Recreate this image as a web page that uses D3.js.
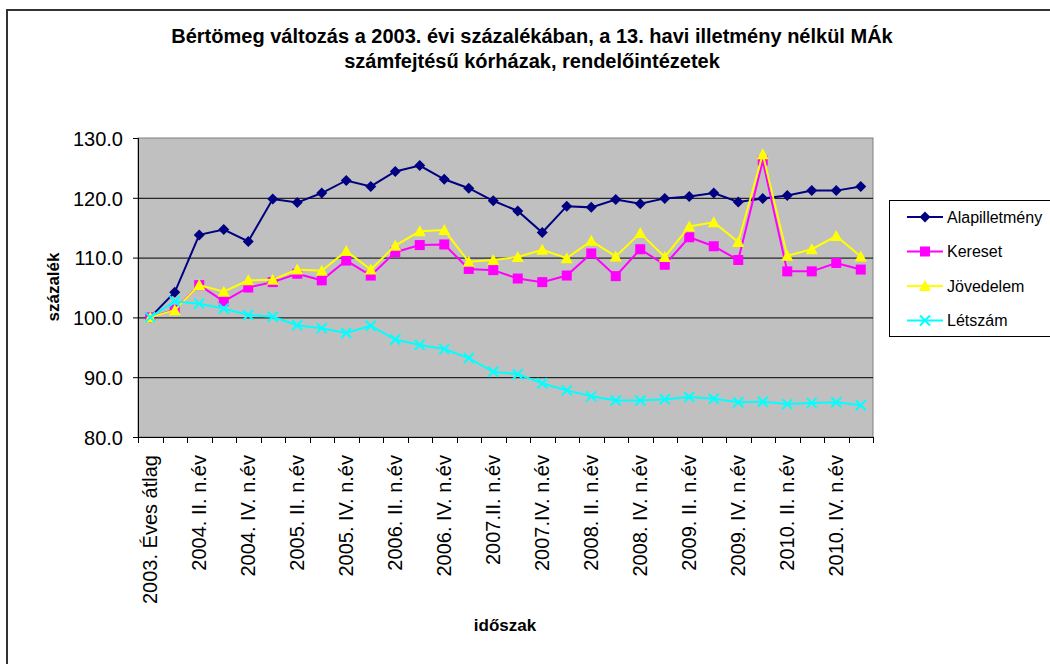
<!DOCTYPE html>
<html lang="hu">
<head>
<meta charset="UTF-8">
<title>Bértömeg változás</title>
<script src="https://cdn.jsdelivr.net/npm/d3@7"></script>
<style>
    body { margin: 0; background: #fff; }
    svg text { font-family: "Liberation Sans", Arial, sans-serif; fill: #000; }
</style>
</head>
<body>
<div id="chart"></div>
<script>
// időszakok (categories)
var idoszakok = [
    "2003. Éves átlag",
    "2004. I. n.év", "2004. II. n.év", "2004. III. n.év", "2004. IV. n.év",
    "2005. I. n.év", "2005. II. n.év", "2005. III. n.év", "2005. IV. n.év",
    "2006. I. n.év", "2006. II. n.év", "2006. III. n.év", "2006. IV. n.év",
    "2007.I. n.év", "2007.II. n.év", "2007.III. n.év", "2007.IV. n.év",
    "2008. I. n.év", "2008. II. n.év", "2008. III. n.év", "2008. IV. n.év",
    "2009. I. n.év", "2009. II. n.év", "2009. III. n.év", "2009. IV. n.év",
    "2010. I. n.év", "2010. II. n.év", "2010. III. n.év", "2010. IV. n.év",
    "2011. I. n.év"
];

var alapilletmeny = [100.0, 104.2, 113.8, 114.7, 112.7, 119.8, 119.2, 120.8, 122.9, 121.9,
                     124.4, 125.4, 123.1, 121.6, 119.5, 117.8, 114.2, 118.6, 118.4, 119.7,
                     119.0, 119.9, 120.2, 120.8, 119.3, 119.9, 120.4, 121.2, 121.2, 121.9];

var kereset = [100.0, 101.3, 105.4, 102.7, 105.0, 105.9, 107.3, 106.2, 109.5, 107.0,
               110.9, 112.1, 112.2, 108.1, 107.9, 106.5, 105.9, 107.0, 110.7, 106.9,
               111.4, 108.8, 113.4, 111.9, 109.6, 126.2, 107.7, 107.7, 109.1, 108.0];

var jovedelem = [100.0, 101.2, 105.4, 104.3, 106.2, 106.3, 108.0, 107.8, 111.1, 108.0,
                 112.0, 114.4, 114.6, 109.3, 109.6, 110.1, 111.3, 109.9, 112.8, 110.2,
                 114.1, 110.1, 115.2, 115.9, 112.6, 127.3, 110.3, 111.4, 113.6, 110.2];

var letszam = [100.0, 102.7, 102.3, 101.5, 100.4, 100.1, 98.7, 98.2, 97.4, 98.6,
               96.3, 95.4, 94.7, 93.2, 90.9, 90.5, 89.0, 87.8, 86.8, 86.1,
               86.1, 86.3, 86.7, 86.4, 85.8, 85.9, 85.5, 85.7, 85.8, 85.3];

var yTicks = [80, 90, 100, 110, 120, 130];

var sorozatok = [
    { nev: "Alapilletmény", ertekek: alapilletmeny, szin: "#000080", jel: "diamond" },
    { nev: "Kereset",       ertekek: kereset,       szin: "#ff00ff", jel: "square" },
    { nev: "Jövedelem",     ertekek: jovedelem,     szin: "#ffff00", jel: "triangle" },
    { nev: "Létszám",       ertekek: letszam,       szin: "#00ffff", jel: "x" }
];

var W = 1050, H = 664;
var plot = { left: 138, top: 138, right: 873, bottom: 437 };

var svg = d3.select("#chart").append("svg")
    .attr("width", W)
    .attr("height", H);

// outer frame
svg.append("rect")
    .attr("x", 7).attr("y", 10)
    .attr("width", 1100).attr("height", 700)
    .attr("fill", "#fff")
    .attr("stroke", "#333")
    .attr("stroke-width", 2);

// title
var title = svg.append("text")
    .attr("text-anchor", "middle")
    .style("font-size", "20px")
    .style("font-weight", "bold");
title.append("tspan").attr("x", 532).attr("y", 43)
    .text("Bértömeg változás a 2003. évi százalékában, a 13. havi illetmény nélkül MÁk");
title.append("tspan").attr("x", 532).attr("y", 68)
    .text("számfejtésű kórházak, rendelőintézetek");

var x = d3.scaleBand()
    .domain(d3.range(idoszakok.length))
    .range([plot.left, plot.right])
    .padding(0);

var y = d3.scaleLinear()
    .domain([80, 130])
    .range([plot.bottom, plot.top]);

// plot area
svg.append("rect")
    .attr("x", plot.left).attr("y", plot.top)
    .attr("width", plot.right - plot.left)
    .attr("height", plot.bottom - plot.top)
    .attr("fill", "#c0c0c0")
    .attr("stroke", "#808080")
    .attr("stroke-width", 1);

// gridlines
svg.append("g")
    .selectAll("line")
    .data(yTicks.slice(1, -1))
    .enter().append("line")
        .attr("x1", plot.left).attr("x2", plot.right)
        .attr("y1", function(d) { return y(d) + 0.5; })
        .attr("y2", function(d) { return y(d) + 0.5; })
        .attr("stroke", "#000")
        .attr("stroke-width", 1);

// y axis
var yAxis = svg.append("g")
    .attr("transform", "translate(" + plot.left + ",0)")
    .call(d3.axisLeft(y).tickValues(yTicks).tickFormat(d3.format(".1f")).tickSize(5).tickPadding(10));
yAxis.select(".domain").attr("stroke", "#000");
yAxis.selectAll(".tick line").attr("stroke", "#000");
yAxis.selectAll("text").style("font-size", "20px").attr("dy", "0.36em");

// x axis - ticks at category boundaries
var xAxis = svg.append("g").attr("class", "x-axis");
xAxis.append("line")
    .attr("x1", plot.left).attr("x2", plot.right)
    .attr("y1", plot.bottom + 0.5).attr("y2", plot.bottom + 0.5)
    .attr("stroke", "#000");
xAxis.selectAll("line.tick")
    .data(d3.range(idoszakok.length + 1))
    .enter().append("line")
        .attr("class", "tick")
        .attr("x1", function(i) { return Math.round(plot.left + i * x.bandwidth()) + 0.5; })
        .attr("x2", function(i) { return Math.round(plot.left + i * x.bandwidth()) + 0.5; })
        .attr("y1", plot.bottom)
        .attr("y2", plot.bottom + 6)
        .attr("stroke", "#000");

xAxis.selectAll("text")
    .data(idoszakok.map(function(d, i) { return { label: d, i: i }; })
        .filter(function(d) { return d.i % 2 === 0; }))
    .enter().append("text")
        .attr("transform", function(d) {
            return "translate(" + (x(d.i) + x.bandwidth() / 2) + "," + (plot.bottom + 18) + ") rotate(-90)";
        })
        .attr("text-anchor", "end")
        .attr("dy", "0.36em")
        .style("font-size", "20px")
        .text(function(d) { return d.label; });

// axis titles
svg.append("text")
    .attr("transform", "translate(53,287) rotate(-90)")
    .attr("text-anchor", "middle")
    .attr("dy", "0.35em")
    .style("font-size", "17px")
    .style("font-weight", "bold")
    .text("százalék");

svg.append("text")
    .attr("x", 505).attr("y", 631)
    .attr("text-anchor", "middle")
    .style("font-size", "17px")
    .style("font-weight", "bold")
    .text("időszak");

// markers
function jelRajzol(g, tipus, szin) {
    if (tipus === "diamond") {
        g.append("path").attr("d", "M0,-5.5L5.5,0L0,5.5L-5.5,0Z").attr("fill", szin);
    } else if (tipus === "square") {
        g.append("rect").attr("x", -5).attr("y", -5).attr("width", 10).attr("height", 10).attr("fill", szin);
    } else if (tipus === "triangle") {
        g.append("path").attr("d", "M0,-6L6,5L-6,5Z").attr("fill", szin);
    } else {
        g.append("path").attr("d", "M-5,-5L5,5M-5,5L5,-5")
            .attr("stroke", szin).attr("stroke-width", 2).attr("fill", "none");
    }
}

var line = d3.line()
    .x(function(d, i) { return x(i) + x.bandwidth() / 2; })
    .y(function(d) { return y(d); });

sorozatok.forEach(function(s) {
    var g = svg.append("g");
    g.append("path")
        .attr("d", line(s.ertekek))
        .attr("fill", "none")
        .attr("stroke", s.szin)
        .attr("stroke-width", 2);
    g.selectAll("g.jel")
        .data(s.ertekek)
        .enter().append("g")
            .attr("class", "jel")
            .attr("transform", function(d, i) {
                return "translate(" + (x(i) + x.bandwidth() / 2) + "," + y(d) + ")";
            })
            .each(function() { jelRajzol(d3.select(this), s.jel, s.szin); });
});

// legend
var legend = svg.append("g");
legend.append("rect")
    .attr("x", 889.5).attr("y", 200.5)
    .attr("width", 200).attr("height", 136)
    .attr("fill", "#fff")
    .attr("stroke", "#000");

var items = legend.selectAll("g.item")
    .data(sorozatok)
    .enter().append("g")
        .attr("class", "item")
        .attr("transform", function(d, i) { return "translate(907," + (217 + i * 34.5) + ")"; });

items.append("line")
    .attr("x1", 0).attr("x2", 36)
    .attr("stroke", function(d) { return d.szin; })
    .attr("stroke-width", 2);
items.append("g")
    .attr("transform", "translate(18,0)")
    .each(function(d) { jelRajzol(d3.select(this), d.jel, d.szin); });
items.append("text")
    .attr("x", 40)
    .attr("dy", "0.35em")
    .style("font-size", "16px")
    .text(function(d) { return d.nev; });
</script>
</body>
</html>
